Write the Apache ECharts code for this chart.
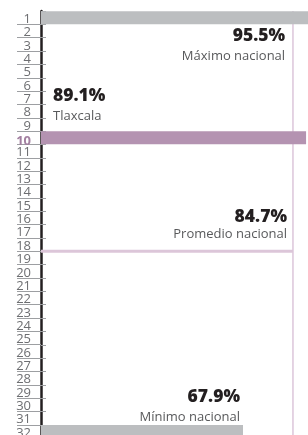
<!DOCTYPE html>
<html>
<head>
    <meta charset="utf-8">
    <title>Ranking nacional</title>
    <script src="https://cdn.jsdelivr.net/npm/echarts@6/dist/echarts.min.js"></script>
    <style>
        html, body { margin: 0; padding: 0; background: #fff; }
    </style>
</head>
<body>
    <div id="chart" style="width: 308px;height:435px;"></div>
    <script type="text/javascript">
        // ---- datos ----
        var ranks = ['1', '2', '3', '4', '5', '6', '7', '8', '9', '10', '11', '12', '13', '14', '15', '16',
                     '17', '18', '19', '20', '21', '22', '23', '24', '25', '26', '27', '28', '29', '30', '31', '32'];
        var maxValue = 95.5, maxLabel = 'Máximo nacional';
        var stateValue = 89.1, stateRank = '10', stateLabel = 'Tlaxcala';
        var avgValue = 84.7, avgRank = 18.5, avgLabel = 'Promedio nacional';
        var minValue = 67.9, minLabel = 'Mínimo nacional';

        // ---- estilos ----
        var font = 'Open Sans';
        function richText(lh) {
            return {
                v: { fontFamily: font, fontWeight: 800, fontSize: 17.5, color: '#231f20', lineHeight: lh },
                n: { fontFamily: font, fontSize: 13, color: '#58595b', lineHeight: lh }
            };
        }
        function twoLines(value, name) {
            return '{v|' + value.toFixed(1) + '%}\n{n|' + name + '}';
        }

        // barras: solo se ven máximo, estado y mínimo
        var barData = ranks.map(function () { return '-'; });
        barData[0] = {
            value: maxValue,
            itemStyle: { color: '#bcbec0' },
            label: {
                show: true, position: ['100%', '100%'], align: 'right', verticalAlign: 'top',
                offset: [-40, 2], formatter: twoLines(maxValue, maxLabel), rich: richText(20)
            }
        };
        barData[ranks.indexOf(stateRank)] = {
            value: stateValue,
            itemStyle: { color: '#b493b1' },
            label: {
                show: true, position: [0, 0], align: 'left', verticalAlign: 'bottom',
                offset: [12, -5], formatter: twoLines(stateValue, stateLabel), rich: richText(20)
            }
        };
        barData[ranks.length - 1] = {
            value: minValue,
            itemStyle: { color: '#bcbec0' },
            label: {
                show: true, position: ['100%', 0], align: 'right', verticalAlign: 'bottom',
                offset: [-3, 2], formatter: twoLines(minValue, minLabel), rich: richText(20)
            }
        };

        var chart = echarts.init(document.getElementById('chart'));
        var option = {
            backgroundColor: '#ffffff',
            animation: false,
            grid: { left: 41, top: 11, width: 297.5, height: 427.2, containLabel: false, outerBoundsMode: 'none' },
            xAxis: { type: 'value', min: 0, max: 100, show: false },
            yAxis: [{
                type: 'category',
                data: ranks,
                inverse: true,
                position: 'left',
                axisLine: { lineStyle: { color: '#231f20', width: 2.5 } },
                axisTick: {
                    show: true,
                    length: 24,
                    // sin marca sobre el primer lugar
                    interval: function (i) { return i !== 0; },
                    lineStyle: { color: '#9d9fa2', width: 1 }
                },
                axisLabel: {
                    interval: 0,
                    margin: 10,
                    fontFamily: font,
                    fontSize: 13,
                    color: '#6d6e71',
                    padding: [3, 0, 0, 0],
                    formatter: function (v) { return v === stateRank ? '{hl|' + v + '}' : v; },
                    rich: { hl: { fontFamily: font, fontSize: 13, fontWeight: 'bold', color: '#a27fa0', padding: [3, 0, 0, 0] } }
                },
                splitLine: { show: false }
            }, {
                // eje auxiliar para las líneas del promedio y el tramo interior de las marcas
                type: 'value',
                min: 0.5,
                max: 32.5,
                interval: 1,
                inverse: true,
                position: 'left',
                axisLine: { show: false },
                axisLabel: { show: false },
                axisTick: { show: true, inside: true, length: 5, lineStyle: { color: '#9d9fa2', width: 1 } },
                splitLine: { show: false }
            }],
            series: [{
                // línea vertical del promedio
                type: 'line',
                yAxisIndex: 1,
                symbol: 'none',
                silent: true,
                z: 1,
                lineStyle: { color: '#cba9c7', width: 1 },
                data: [[avgValue, 0.5], [avgValue, 32.5]]
            }, {
                // tramo horizontal del promedio
                type: 'line',
                yAxisIndex: 1,
                symbol: 'circle',
                symbolSize: 0,
                silent: true,
                z: 2,
                lineStyle: { color: '#dcc6d9', width: 3 },
                data: [[0, avgRank], {
                    value: [avgValue, avgRank],
                    label: {
                        show: true, position: [0, 0], align: 'right', verticalAlign: 'bottom',
                        offset: [-6, -9], formatter: twoLines(avgValue, avgLabel), rich: richText(17)
                    }
                }]
            }, {
                type: 'bar',
                yAxisIndex: 0,
                barWidth: 13,
                z: 3,
                data: barData
            }]
        };
        chart.setOption(option);
    </script>
</body>
</html>
